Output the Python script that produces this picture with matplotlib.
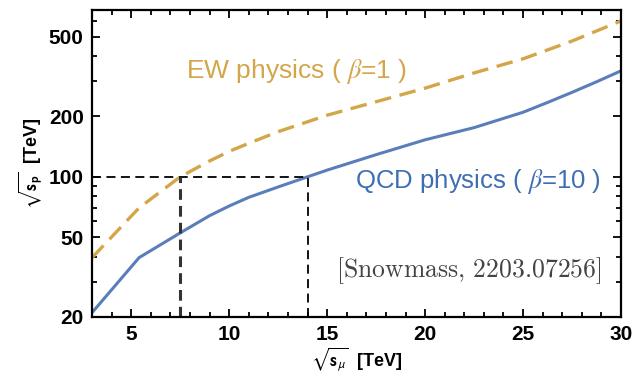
import matplotlib
matplotlib.use("Agg")
import matplotlib.pyplot as plt
from matplotlib.ticker import FixedLocator, MultipleLocator, NullFormatter

plt.rcParams["font.family"] = ["Liberation Sans", "DejaVu Sans"]
plt.rcParams["mathtext.fontset"] = "stixsans"

# collider energy sqrt(s_mu) [TeV] vs equivalent proton energy sqrt(s_p) [TeV]
ew_x = [3, 5.4, 7.5, 9, 10, 11, 12.5, 15, 17.5, 20, 22.5, 25, 27.5, 30]
ew_y = [39.5, 70, 100, 120, 134, 147, 168, 203, 237, 277, 330, 388, 476, 600]

qcd_x = [3, 5.4, 7.5, 9, 10, 11, 12.5, 14, 15, 17.5, 20, 22.5, 25, 26.25, 27.5, 28.75, 30]
qcd_y = [21, 39.5, 52.5, 64, 71.5, 79, 89, 100, 108, 129, 153, 176, 210, 235, 264, 298, 338]

ref_sp = 100
ref_ew_mu = 7.5
ref_qcd_mu = 14

y_ticks = [20, 50, 100, 200, 500]
x_ticks = [5, 10, 15, 20, 25, 30]

gold = "#D4A64A"
blue = "#5B7DBA"

fig = plt.figure(figsize=(6.35, 3.85), dpi=100)
ax = fig.add_axes([0.145, 0.177, 0.833, 0.797])

ax.plot(ew_x, ew_y, color=gold, lw=2.4, dashes=(5, 2.6))
ax.plot(qcd_x, qcd_y, color=blue, lw=2.2)

ax.plot([3, ref_qcd_mu], [ref_sp, ref_sp], color="black", lw=1.3, dashes=(5, 3))
ax.plot([ref_ew_mu, ref_ew_mu], [20, ref_sp], color="#333333", lw=2.2, dashes=(3.5, 2))
ax.plot([ref_qcd_mu, ref_qcd_mu], [20, ref_sp], color="black", lw=1.3, dashes=(5, 3))

ax.set_yscale("log")
ax.set_xlim(3, 30)
ax.set_ylim(20, 680)

ax.yaxis.set_major_locator(FixedLocator(y_ticks))
ax.set_yticklabels([str(t) for t in y_ticks])
ax.yaxis.set_minor_locator(FixedLocator([30, 40, 60, 70, 80, 90, 300, 400, 600]))
ax.yaxis.set_minor_formatter(NullFormatter())
ax.xaxis.set_major_locator(FixedLocator(x_ticks))
ax.xaxis.set_minor_locator(MultipleLocator(1))

ax.tick_params(which="both", direction="in", top=True, right=True, width=1.3)
ax.tick_params(which="major", length=6, labelsize=15, pad=6)
ax.tick_params(which="minor", length=3.5)
for lab in ax.get_xticklabels() + ax.get_yticklabels():
    lab.set_fontweight("bold")
for sp in ax.spines.values():
    sp.set_linewidth(1.6)

ax.set_xlabel(r"$\sqrt{\mathbf{s}_{\mu}}$  [TeV]", fontsize=13, fontweight="bold", labelpad=1)
ax.set_ylabel(r"$\sqrt{\mathbf{s}_{\mathbf{p}}}$  [TeV]", fontsize=13, fontweight="bold", labelpad=3)

ax.text(0.386, 0.80, r"EW physics ( $\beta$=1 )", transform=ax.transAxes, color=gold,
        fontsize=19, ha="center", va="center", math_fontfamily="stix")
ax.text(0.73, 0.44, r"QCD physics ( $\beta$=10 )", transform=ax.transAxes, color="#3E6FB3",
        fontsize=18.5, ha="center", va="center", math_fontfamily="stix")
ax.text(0.963, 0.15, r"$\mathrm{[Snowmass,\,2203.07256]}$", transform=ax.transAxes,
        color="#444444", fontsize=18.5, ha="right", va="center", math_fontfamily="cm")

fig.savefig("out.png", dpi=100)
